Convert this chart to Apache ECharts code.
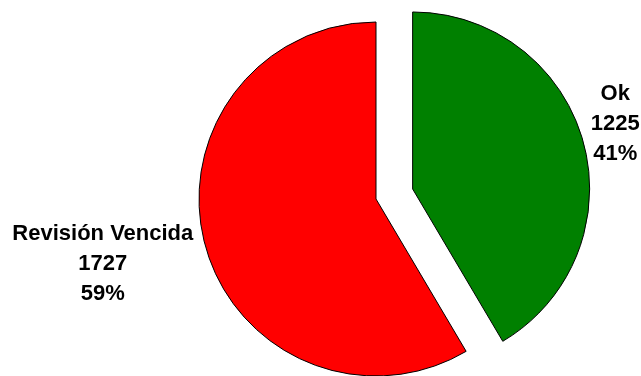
<!DOCTYPE html>
<html>
<head>
<meta charset="utf-8">
<script src="https://cdn.jsdelivr.net/npm/echarts@6/dist/echarts.min.js"></script>
<style>
  html, body { margin: 0; padding: 0; background: #ffffff; }
  #chart { width: 641px; height: 376px; }
</style>
</head>
<body>
<div id="chart"></div>
<script>
// Status of equipment revisions
const categories = ['Ok', 'Revisión Vencida'];
const counts = [1225, 1727];
const colors = ['#008000', '#FF0000'];
const explodedCategory = 'Ok';

// Pie geometry
const CENTER = [376, 199];
const RADIUS = 177;
const START_ANGLE = 90;
const EXPLODE_OFFSET = 38;
// Label placement: distance beyond the rim, tuned for the bold label boxes
const LABEL_GAP = -6;
const LABEL_WIDTH_FACTOR = 1.15;
const LABEL_NUDGE_Y = -10;

const chart = echarts.init(document.getElementById('chart'), null, { renderer: 'canvas' });

const total = counts.reduce((a, b) => a + b, 0);

// Direction (screen coords) of the middle of each slice, going clockwise from START_ANGLE
function midDirection(index) {
  let before = 0;
  for (let i = 0; i < index; i++) before += counts[i];
  const midFrac = (before + counts[index] / 2) / total;
  const ang = (START_ANGLE - midFrac * 360) * Math.PI / 180;
  return [Math.cos(ang), -Math.sin(ang)];
}

const sliceData = categories.map((name, i) => ({
  name: name,
  value: counts[i],
  selected: name === explodedCategory,
  itemStyle: { color: colors[i] }
}));

const labelData = categories.map((name, i) => ({
  name: name,
  value: counts[i]
}));

const labelStyle = {
  show: true,
  position: 'outside',
  formatter: '{b}\n{c}\n{d}%',
  fontFamily: 'Liberation Sans, Arial, sans-serif',
  fontWeight: 'bold',
  fontSize: 22,
  lineHeight: 30,
  color: '#000000'
};

chart.setOption({
  animation: false,
  backgroundColor: '#ffffff',
  series: [
    {
      // The slices, with "Ok" pulled out of the pie
      type: 'pie',
      center: CENTER,
      radius: RADIUS,
      startAngle: START_ANGLE,
      clockwise: true,
      selectedMode: 'single',
      selectedOffset: EXPLODE_OFFSET,
      data: sliceData,
      itemStyle: { borderColor: '#000000', borderWidth: 1 },
      emphasis: { disabled: true },
      select: { itemStyle: { borderColor: '#000000', borderWidth: 1 } },
      label: { show: false },
      labelLine: { show: false }
    },
    {
      // Category / count / percentage labels
      type: 'pie',
      center: CENTER,
      radius: RADIUS,
      startAngle: START_ANGLE,
      clockwise: true,
      selectedMode: false,
      silent: true,
      percentPrecision: 0,
      avoidLabelOverlap: false,
      data: labelData,
      itemStyle: { color: 'rgba(0,0,0,0)', borderWidth: 0 },
      emphasis: { disabled: true },
      label: labelStyle,
      labelLine: { show: false, length: 6, length2: 0 },
      // Put each label box just outside its slice, centred on the slice's mid direction
      labelLayout: function (params) {
        const i = params.dataIndex;
        const dir = midDirection(i);
        const shift = categories[i] === explodedCategory ? EXPLODE_OFFSET : 0;
        const cx = CENTER[0] + dir[0] * shift;
        const cy = CENTER[1] + dir[1] * shift;
        const hw = params.labelRect.width / 2 * LABEL_WIDTH_FACTOR;
        const hh = params.labelRect.height / 2;
        const extent = Math.abs(hw * dir[0]) + Math.abs(hh * dir[1]);
        const d = RADIUS + LABEL_GAP + extent;
        return {
          x: cx + dir[0] * d,
          y: cy + dir[1] * d + LABEL_NUDGE_Y,
          align: 'center',
          verticalAlign: 'middle'
        };
      }
    }
  ]
});
</script>
</body>
</html>
